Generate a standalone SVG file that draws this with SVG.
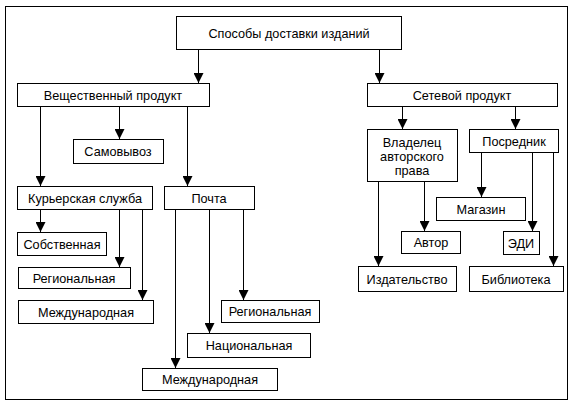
<svg xmlns="http://www.w3.org/2000/svg" width="574" height="406" viewBox="0 0 574 406">
<style>
.b{fill:#fff;stroke:#000;stroke-width:1}
.t{font-family:"Liberation Sans",Arial,sans-serif;font-size:12.7px;fill:#000;text-anchor:middle}
.c{stroke:#000;stroke-width:1;fill:none;marker-end:url(#ah)}
</style>
<defs>
<marker id="ah" viewBox="0 0 10 10" refX="10" refY="5" markerWidth="10" markerHeight="10" markerUnits="userSpaceOnUse" orient="auto"><path d="M0,0 L10,5 L0,10 z" fill="#000"/></marker>
</defs>
<rect x="0" y="0" width="574" height="406" fill="#fff"/>
<rect x="5.5" y="6.5" width="562" height="393" fill="none" stroke="#000" stroke-width="1"/>
<g id="connectors">
<path class="c" d="M198.5,49 V83"/>
<path class="c" d="M379.5,49 V83"/>
<path class="c" d="M40.5,106 V186"/>
<path class="c" d="M119.5,106 V139"/>
<path class="c" d="M187.5,106 V186"/>
<path class="c" d="M40.5,209 V232"/>
<path class="c" d="M119.5,209 V267"/>
<path class="c" d="M142.5,209 V300"/>
<path class="c" d="M175.5,209 V368"/>
<path class="c" d="M209.5,209 V333"/>
<path class="c" d="M243.5,209 V300"/>
<path class="c" d="M402.5,106 V129"/>
<path class="c" d="M515.5,106 V129"/>
<path class="c" d="M378.5,181 V266"/>
<path class="c" d="M424.5,181 V231"/>
<path class="c" d="M481.5,152 V197"/>
<path class="c" d="M532.5,152 V231"/>
<path class="c" d="M553.5,152 V266"/>
</g>
<g id="root"><rect class="b" x="176.5" y="16.5" width="225" height="33"/><text class="t" x="289" y="37.5">Способы доставки изданий</text></g>
<g id="veshch"><rect class="b" x="17.5" y="83.5" width="192" height="23"/><text class="t" x="113" y="99.5">Вещественный продукт</text></g>
<g id="setevoy"><rect class="b" x="367.5" y="83.5" width="190" height="23"/><text class="t" x="462" y="99.5">Сетевой продукт</text></g>
<g id="samovyvoz"><rect class="b" x="73.5" y="139.5" width="90" height="24"/><text class="t" x="118" y="156">Самовывоз</text></g>
<g id="kurier"><rect class="b" x="17.5" y="186.5" width="135" height="23"/><text class="t" x="85" y="202.5">Курьерская служба</text></g>
<g id="pochta"><rect class="b" x="164.5" y="186.5" width="90" height="23"/><text class="t" x="209" y="202.5">Почта</text></g>
<g id="sobstv"><rect class="b" x="17.5" y="232.5" width="89" height="23"/><text class="t" x="62" y="248.5">Собственная</text></g>
<g id="kreg"><rect class="b" x="18.5" y="267.5" width="112" height="21"/><text class="t" x="74" y="282.5">Региональная</text></g>
<g id="kmezh"><rect class="b" x="18.5" y="300.5" width="135" height="23"/><text class="t" x="86" y="316.5">Международная</text></g>
<g id="preg"><rect class="b" x="221.5" y="300.5" width="98" height="22"/><text class="t" x="270" y="316">Региональная</text></g>
<g id="pnac"><rect class="b" x="187.5" y="333.5" width="123" height="24"/><text class="t" x="249" y="350">Национальная</text></g>
<g id="pmezh"><rect class="b" x="142.5" y="368.5" width="135" height="22"/><text class="t" x="210" y="384">Международная</text></g>
<g id="vladelec"><rect class="b" x="367.5" y="129.5" width="90" height="52"/><text class="t" x="412" y="147">Владелец</text><text class="t" x="412" y="161">авторского</text><text class="t" x="412" y="175">права</text></g>
<g id="posrednik"><rect class="b" x="469.5" y="129.5" width="89" height="23"/><text class="t" x="514" y="145.5">Посредник</text></g>
<g id="magazin"><rect class="b" x="436.5" y="197.5" width="89" height="23"/><text class="t" x="481" y="213.5">Магазин</text></g>
<g id="avtor"><rect class="b" x="401.5" y="231.5" width="59" height="22"/><text class="t" x="431" y="247">Автор</text></g>
<g id="edi"><rect class="b" x="503.5" y="231.5" width="36" height="23"/><text class="t" x="521" y="247.5">ЭДИ</text></g>
<g id="izdat"><rect class="b" x="358.5" y="266.5" width="98" height="25"/><text class="t" x="407" y="283.5">Издательство</text></g>
<g id="biblio"><rect class="b" x="469.5" y="266.5" width="94" height="25"/><text class="t" x="516" y="283.5">Библиотека</text></g>
</svg>
